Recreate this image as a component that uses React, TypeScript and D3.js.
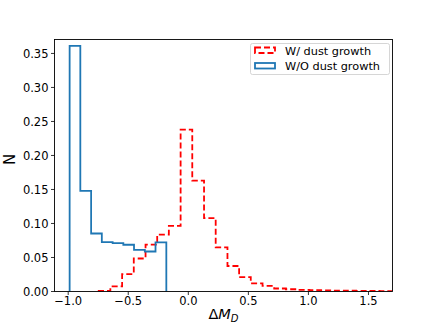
import React from "react";
import * as d3 from "d3";

// Blue histogram (W/O dust growth): bin edges and normalised counts
const blueEdges = [-0.988, -0.899, -0.809, -0.72, -0.63, -0.541, -0.452, -0.362, -0.273, -0.183];
const blueValues = [0.361, 0.148, 0.0853, 0.0726, 0.0711, 0.0687, 0.0613, 0.0588, 0.0721];

// Red histogram (W/ dust growth)
const redEdges = [
  -0.746, -0.649, -0.551, -0.454, -0.356, -0.259, -0.162, -0.064, 0.033, 0.131, 0.228, 0.326, 0.423,
  0.52, 0.618, 0.715, 0.813, 0.91, 1.008, 1.105, 1.202, 1.3, 1.397, 1.495, 1.592, 1.69,
];
const redValues = [
  0.001, 0.0074, 0.0256, 0.0485, 0.069, 0.0836, 0.0966, 0.238, 0.163, 0.108, 0.065, 0.0375, 0.021,
  0.012, 0.0084, 0.0044, 0.0033, 0.0025, 0.002, 0.0017, 0.0014, 0.0012, 0.001, 0.0008, 0.0006,
];

const xTicks = [-1.0, -0.5, 0.0, 0.5, 1.0, 1.5];
const yTicks = [0, 0.05, 0.1, 0.15, 0.2, 0.25, 0.3, 0.35];
const legendLabels = ["W/ dust growth", "W/O dust growth"];

const W = 436;
const H = 327;
const L = 54.5;
const R = 392.5;
const T = 39.5;
const B = 291.5;
const FONT = "DejaVu Sans, sans-serif";

function stepPoints(edges: number[], values: number[]): [number, number][] {
  const pts: [number, number][] = [[edges[0], 0]];
  values.forEach((v, i) => {
    pts.push([edges[i], v]);
    pts.push([edges[i + 1], v]);
  });
  pts.push([edges[edges.length - 1], 0]);
  return pts;
}

export default function App() {
  const x = d3.scaleLinear().domain([-1.114, 1.7]).range([L, R]);
  const y = d3.scaleLinear().domain([0, 0.3705]).range([B, T]);
  const line = d3
    .line<[number, number]>()
    .x((d) => x(d[0]))
    .y((d) => y(d[1]));

  const fmtX = (v: number) => d3.format(".1f")(v).replace("-", "\u2212");
  const fmtY = (v: number) => d3.format(".2f")(v);

  const redPath = line(stepPoints(redEdges, redValues)) || "";
  const bluePath = line(stepPoints(blueEdges, blueValues)) || "";

  return (
    <div style={{ position: "absolute", left: 0, top: 0 }}>
      <svg width={W} height={H} style={{ display: "block", background: "#fff" }}>
        <defs>
          <clipPath id="plotclip">
            <rect x={L} y={T - 2} width={R - L} height={B - T + 2} />
          </clipPath>
        </defs>
        <g clipPath="url(#plotclip)">
          <path d={redPath} fill="none" stroke="#ff0000" strokeWidth={1.8} strokeDasharray="6,3" />
          <path d={bluePath} fill="none" stroke="#1f77b4" strokeWidth={1.8} />
        </g>
        {/* frame */}
        <rect x={L} y={T} width={R - L} height={B - T} fill="none" stroke="#000" strokeWidth={0.9} />
        {/* x ticks */}
        {xTicks.map((t) => (
          <g key={"x" + t}>
            <line x1={x(t)} x2={x(t)} y1={B} y2={B + 3.5} stroke="#000" strokeWidth={0.8} />
            <text
              x={x(t)}
              y={304.5}
              textAnchor="middle"
              fontFamily={FONT}
              fontSize={11.5}
              fill="#000"
            >
              {fmtX(t)}
            </text>
          </g>
        ))}
        {/* y ticks */}
        {yTicks.map((t) => (
          <g key={"y" + t}>
            <line x1={L - 3.5} x2={L} y1={y(t)} y2={y(t)} stroke="#000" strokeWidth={0.8} />
            <text
              x={L - 6}
              y={y(t)}
              dy="0.36em"
              textAnchor="end"
              fontFamily={FONT}
              fontSize={11.5}
              fill="#000"
            >
              {fmtY(t)}
            </text>
          </g>
        ))}
        {/* axis labels */}
        <text
          x={(L + R) / 2}
          y={319}
          textAnchor="middle"
          fontFamily={FONT}
          fontSize={14.5}
          fill="#000"
        >
          {"\u0394"}
          <tspan fontStyle="italic">M</tspan>
          <tspan fontStyle="italic" fontSize={10} dy={3}>
            D
          </tspan>
        </text>
        <text
          transform={`translate(15, ${(T + B) / 2 - 6}) rotate(-90)`}
          textAnchor="middle"
          fontFamily={FONT}
          fontSize={15}
          fill="#000"
        >
          N
        </text>
        {/* legend */}
        <g>
          <rect x={250.5} y={43.5} width={139} height={31} rx={2} fill="#fff" fillOpacity={0.8} stroke="#cccccc" strokeWidth={0.8} />
          <rect x={255} y={47.5} width={20} height={5.5} fill="none" stroke="#ff0000" strokeWidth={1.8} strokeDasharray="6,3" />
          <rect x={255} y={63} width={20} height={5.5} fill="none" stroke="#1f77b4" strokeWidth={1.8} />
          <text x={285} y={54.5} fontFamily={FONT} fontSize={11.3} fill="#000">
            {legendLabels[0]}
          </text>
          <text x={285} y={70} fontFamily={FONT} fontSize={11.3} fill="#000">
            {legendLabels[1]}
          </text>
        </g>
      </svg>
    </div>
  );
}
